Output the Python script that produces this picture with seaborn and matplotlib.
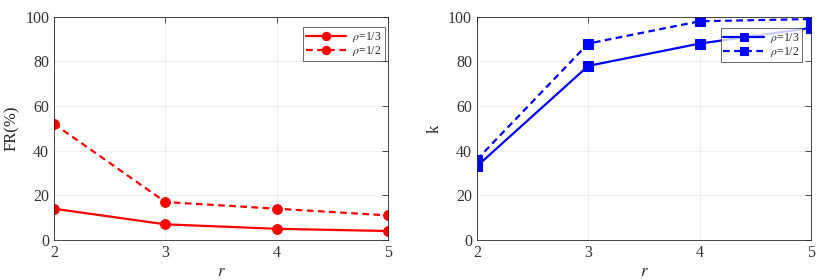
import numpy as np
import pandas as pd
import seaborn as sns
import matplotlib.pyplot as plt

r_values = [2, 3, 4, 5]
fr_rho_third = [14, 7, 5, 4]
fr_rho_half = [52, 17, 14, 11]
k_rho_third = [33, 78, 88, 95]
k_rho_half = [36, 88, 98, 99]
series_labels = [r'$\rho$=1/3', r'$\rho$=1/2']

sns.set_style('white')
plt.rcParams['font.family'] = ['Liberation Serif', 'DejaVu Serif']
plt.rcParams['mathtext.fontset'] = 'stix'


def build_frame(first, second):
    return pd.DataFrame({
        'r': r_values * 2,
        'value': first + second,
        'series': [series_labels[0]] * 4 + [series_labels[1]] * 4,
    })


def draw_panel(ax, frame, color, marker, ylabel, legend_anchor):
    sns.lineplot(data=frame, x='r', y='value', style='series', ax=ax,
                 color=color, markers={series_labels[0]: marker, series_labels[1]: marker},
                 dashes={series_labels[0]: '', series_labels[1]: (3, 2)},
                 markersize=7, markeredgecolor=color, linewidth=1.6)
    ax.set_xlim(2, 5)
    ax.set_ylim(0, 100)
    ax.set_xticks(r_values)
    ax.set_yticks(range(0, 101, 20))
    ax.set_xlabel('$r$', fontsize=12, labelpad=2)
    ax.set_ylabel(ylabel, fontsize=12, labelpad=4)
    ax.grid(True, color='#ebebeb', linewidth=0.6)
    ax.tick_params(direction='in', top=True, right=True, length=4,
                   labelsize=11.5, colors='#333333', width=0.6)
    for spine in ax.spines.values():
        spine.set_color('#262626')
        spine.set_linewidth(0.6)
    leg = ax.legend(loc='upper right', bbox_to_anchor=legend_anchor, fontsize=8.5,
                    frameon=True, fancybox=False, edgecolor='#262626',
                    handlelength=3.4, borderpad=0.25, labelspacing=0.05,
                    handletextpad=0.5, borderaxespad=0)
    leg.get_frame().set_linewidth(0.6)
    for line in leg.get_lines():
        line.set_markersize(6)


fig, axes = plt.subplots(1, 2, figsize=(8.31, 2.8), dpi=100)
draw_panel(axes[0], build_frame(fr_rho_third, fr_rho_half), '#ff0000', 'o',
           'FR(%)', (0.99, 0.955))
draw_panel(axes[1], build_frame(k_rho_third, k_rho_half), '#0000ff', 's',
           'k', (0.973, 0.951))

fig.subplots_adjust(left=0.065, right=0.976, top=0.94, bottom=0.143, wspace=0.265)
fig.savefig('out.png', dpi=100)
